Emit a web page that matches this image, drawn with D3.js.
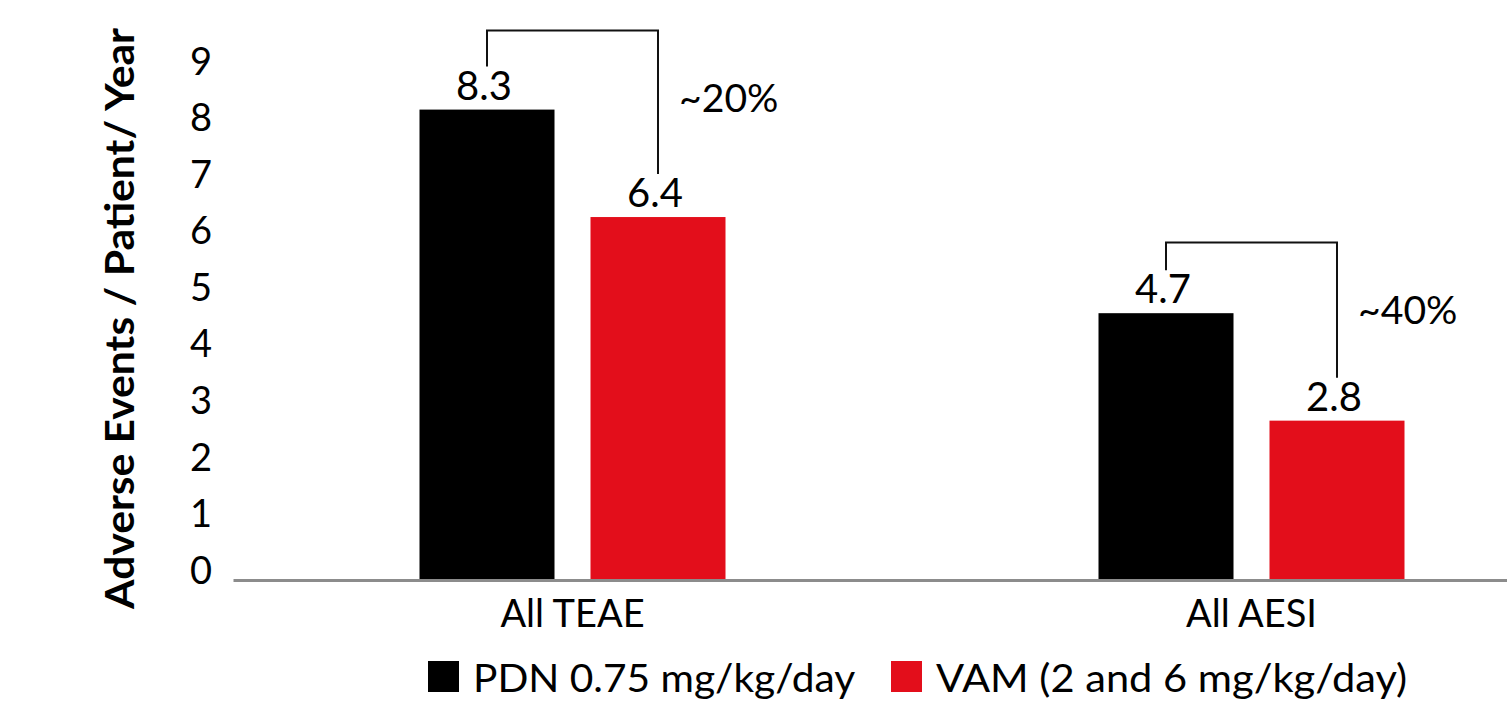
<!DOCTYPE html>
<html>
<head>
<meta charset="utf-8">
<script src="https://cdn.jsdelivr.net/npm/d3@7"></script>
<style>
  html, body { margin: 0; padding: 0; background: #fff; }
  svg { display: block; }
  text { font-family: Lato, "Open Sans", sans-serif; fill: #000; }
</style>
</head>
<body>
<svg id="chart" width="1507" height="706"></svg>
<script>
// Adverse event rates per patient-year, by treatment arm
const categories = ["All TEAE", "All AESI"];
const seriesKeys = ["pdn", "vam"];
const seriesNames = ["PDN 0.75 mg/kg/day", "VAM (2 and 6 mg/kg/day)"];
const pdnValues = [8.3, 4.7];
const vamValues = [6.4, 2.8];
const yTickValues = [0, 1, 2, 3, 4, 5, 6, 7, 8, 9];
const reductionLabels = ["~20%", "~40%"];
const bracketLevels = [9.7, 5.95];
const yTitle = "Adverse Events / Patient/ Year";

const colors = { pdn: "#000000", vam: "#E30E1B" };
const FONT = 38;

const svg = d3.select("#chart");

const x = d3.scaleBand().domain(categories).range([233, 1591]).padding(0);
const groupWidth = 306;
const xInner = d3.scaleBand().domain(seriesKeys).range([0, groupWidth]).paddingInner(0.2105).paddingOuter(0);
const y = d3.scaleLinear().domain([0, 9]).range([579, 70]);

const groupLeft = c => x(c) + (x.bandwidth() - groupWidth) / 2;
const barCenter = (c, k) => groupLeft(c) + xInner(k) + xInner.bandwidth() / 2;

const rows = categories.map((c, i) => ({ cat: c, pdn: pdnValues[i], vam: vamValues[i] }));

// Y axis: labels only
const yAxis = svg.append("g")
  .attr("transform", "translate(212,-8)")
  .call(d3.axisLeft(y).tickValues(yTickValues).tickSize(0).tickPadding(0).tickFormat(d3.format("d")));
yAxis.select(".domain").remove();
yAxis.selectAll("text").style("font-size", FONT + "px").style("font-family", "Lato").attr("fill", "#000");

// Y axis title
svg.append("text")
  .attr("transform", `translate(134,${(30 + 607) / 2}) rotate(-90) scale(1.065,1)`)
  .attr("text-anchor", "middle")
  .style("font-size", "40px")
  .style("font-weight", "bold")
  .text(yTitle);

// Bars
const groups = svg.append("g").selectAll("g")
  .data(rows).join("g")
  .attr("transform", d => `translate(${groupLeft(d.cat)},0)`);

groups.selectAll("rect")
  .data(d => seriesKeys.map(k => ({ key: k, value: d[k] })))
  .join("rect")
  .attr("x", d => xInner(d.key))
  .attr("y", d => y(d.value))
  .attr("width", xInner.bandwidth())
  .attr("height", d => y(0) - y(d.value))
  .attr("fill", d => colors[d.key]);

// Value labels
groups.selectAll("text.val")
  .data(d => seriesKeys.map(k => ({ key: k, value: d[k] })))
  .join("text")
  .attr("class", "val")
  .attr("x", d => xInner(d.key) + xInner.bandwidth() / 2 - 3)
  .attr("y", d => y(d.value) - 10)
  .attr("text-anchor", "middle")
  .style("font-size", "40px")
  .text(d => d3.format(".1f")(d.value));

// X axis baseline and category labels
const xAxis = svg.append("g")
  .attr("transform", `translate(0,${y(0) + 1})`)
  .call(d3.axisBottom(x).tickSize(0).tickSizeOuter(0).tickPadding(20));
xAxis.select(".domain").attr("stroke", "#8c8c8c").attr("stroke-width", 3);
xAxis.selectAll("text").style("font-size", FONT + "px").style("font-family", "Lato").attr("fill", "#000");

// Reduction brackets between arms
const brackets = svg.append("g");
rows.forEach((d, i) => {
  const xl = barCenter(d.cat, "pdn");
  const xr = barCenter(d.cat, "vam");
  const top = y(bracketLevels[i]);
  const path = d3.path();
  path.moveTo(xl, y(d.pdn) - 43);
  path.lineTo(xl, top);
  path.lineTo(xr, top);
  path.lineTo(xr, y(d.vam) - 43);
  brackets.append("path")
    .attr("d", path.toString())
    .attr("fill", "none")
    .attr("stroke", "#111")
    .attr("stroke-width", 2);
  brackets.append("text")
    .attr("transform", `translate(${xr + 21},${top + 82}) scale(1.03,1)`)
    .style("font-size", FONT + "px")
    .text(reductionLabels[i]);
});

// Legend
const legendX = [428, 891];
const legendStretch = [1.07, 1.095];
const legend = svg.append("g").attr("transform", "translate(0,661)");
seriesKeys.forEach((k, i) => {
  legend.append("rect")
    .attr("x", legendX[i]).attr("y", 0)
    .attr("width", 31).attr("height", 31)
    .attr("fill", colors[k]);
  legend.append("text")
    .attr("transform", `translate(${legendX[i] + 45},31) scale(${legendStretch[i]},1)`)
    .style("font-size", FONT + "px")
    .text(seriesNames[i]);
});
</script>
</body>
</html>
